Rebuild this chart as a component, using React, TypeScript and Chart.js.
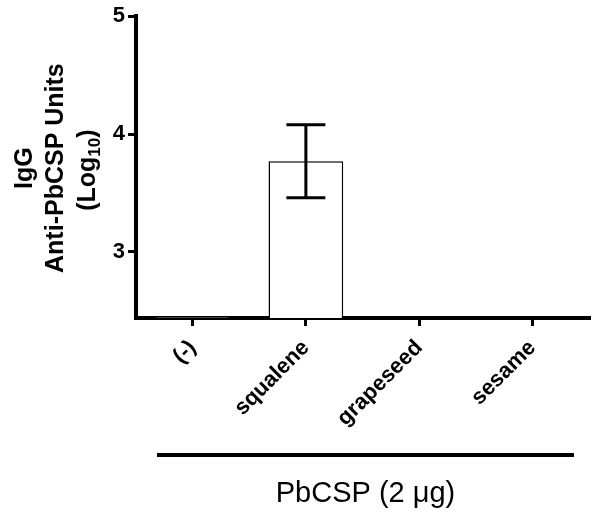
import React, { useEffect, useRef } from "react";
import { Chart, registerables } from "chart.js";

Chart.register(...registerables);

const categories = ["(-)", "squalene", "grapeseed", "sesame"];
const means: (number | null)[] = [2.455, 3.77, null, null];
const errors: (number | null)[] = [0, 0.31, null, null];
const yTicks = [3, 4, 5];
const yMin = 2.44;
const yMax = 5;
const yTitleLines = ["IgG", "Anti-PbCSP Units"];
const xTitle = "PbCSP (2 \u03bcg)";

const FONT = "'Liberation Sans', Arial, Helvetica, sans-serif";

const drawPlugin = {
  id: "customDraw",
  afterDatasetsDraw(chart: any) {
    const ctx = chart.ctx;
    const xs = chart.scales.x;
    const ys = chart.scales.y;
    ctx.save();
    ctx.strokeStyle = "#000";
    ctx.lineWidth = 3;
    means.forEach((m, i) => {
      const e = errors[i];
      if (m == null || e == null || e === 0) return;
      const x = xs.getPixelForValue(i);
      const yt = ys.getPixelForValue(m + e);
      const yb = ys.getPixelForValue(m - e);
      ctx.beginPath();
      ctx.moveTo(x, yt);
      ctx.lineTo(x, yb);
      ctx.moveTo(x - 19.5, yt);
      ctx.lineTo(x + 19.5, yt);
      ctx.moveTo(x - 19.5, yb);
      ctx.lineTo(x + 19.5, yb);
      ctx.stroke();
    });
    ctx.restore();
  },
  afterDraw(chart: any) {
    const ctx = chart.ctx;
    const area = chart.chartArea;
    ctx.save();
    // y title
    const cy = (area.top + area.bottom) / 2 + 1;
    ctx.fillStyle = "#000";
    ctx.font = `bold 25px ${FONT}`;
    ctx.textBaseline = "alphabetic";
    ctx.textAlign = "center";
    const baselines = [32, 63];
    yTitleLines.forEach((t, i) => {
      ctx.save();
      ctx.translate(baselines[i], cy);
      ctx.rotate(-Math.PI / 2);
      ctx.fillText(t, 0, 0);
      ctx.restore();
    });
    // (Log10) with subscript
    ctx.save();
    ctx.translate(95, cy + 2);
    ctx.rotate(-Math.PI / 2);
    const big = `bold 25px ${FONT}`;
    const small = `bold 17px ${FONT}`;
    ctx.font = big;
    const w1 = ctx.measureText("(Log").width;
    const w3 = ctx.measureText(")").width;
    ctx.font = small;
    const w2 = ctx.measureText("10").width;
    const total = w1 + w2 + w3;
    const x0 = -total / 2;
    ctx.textAlign = "left";
    ctx.font = big;
    ctx.fillText("(Log", x0, 0);
    ctx.font = small;
    ctx.fillText("10", x0 + w1, 5);
    ctx.font = big;
    ctx.fillText(")", x0 + w1 + w2, 0);
    ctx.restore();

    // group line
    ctx.strokeStyle = "#000";
    ctx.lineWidth = 4;
    ctx.beginPath();
    ctx.moveTo(area.left + 21, 455);
    ctx.lineTo(area.right - 15, 455);
    ctx.stroke();
    // x title
    ctx.font = `29px ${FONT}`;
    ctx.textAlign = "center";
    ctx.textBaseline = "alphabetic";
    ctx.fillText(xTitle, (area.left + 21 + area.right - 15) / 2, 502);
    ctx.restore();
  },
};

export default function App() {
  const ref = useRef<HTMLCanvasElement>(null);
  useEffect(() => {
    document.body.style.margin = "0";
    const chart = new Chart(ref.current!, {
      type: "bar",
      data: {
        labels: categories,
        datasets: [
          {
            data: means as any,
            backgroundColor: "#fff",
            borderColor: "#000",
            borderWidth: 1.5,
            borderSkipped: "bottom",
            categoryPercentage: 1,
            barPercentage: 0.66,
          },
        ],
      },
      options: {
        animation: false,
        responsive: false,
        maintainAspectRatio: false,
        layout: { padding: { left: 0, right: 11, top: 15, bottom: 0 } },
        plugins: { legend: { display: false }, tooltip: { enabled: false } },
        scales: {
          x: {
            offset: true,
            grid: {
              display: true,
              drawOnChartArea: false,
              drawTicks: true,
              tickLength: 8,
              lineWidth: 3,
              color: "#000",
              offset: false,
            },
            border: { display: true, width: 4, color: "#000" },
            ticks: {
              color: "#000",
              font: { family: FONT, size: 22, weight: "bold" },
              maxRotation: 45,
              minRotation: 45,
              padding: 9,
            },
            afterFit(scale: any) {
              scale.height = 521 - 318;
            },
          },
          y: {
            min: yMin,
            max: yMax,
            grid: {
              display: true,
              drawOnChartArea: false,
              drawTicks: true,
              tickLength: 8,
              lineWidth: 3,
              color: "#000",
            },
            border: { display: true, width: 4, color: "#000" },
            ticks: {
              color: "#000",
              font: { family: FONT, size: 22, weight: "bold" },
              padding: 3,
            },
            afterBuildTicks(scale: any) {
              scale.ticks = yTicks.map((v) => ({ value: v }));
            },
            afterFit(scale: any) {
              scale.width = 136;
            },
          },
        },
      },
      plugins: [drawPlugin],
    } as any);
    return () => chart.destroy();
  }, []);
  return (
    <div style={{ position: "absolute", left: 0, top: 0, width: 600, height: 521, background: "#fff" }}>
      <canvas ref={ref} width={600} height={521} style={{ width: 600, height: 521 }} />
    </div>
  );
}
